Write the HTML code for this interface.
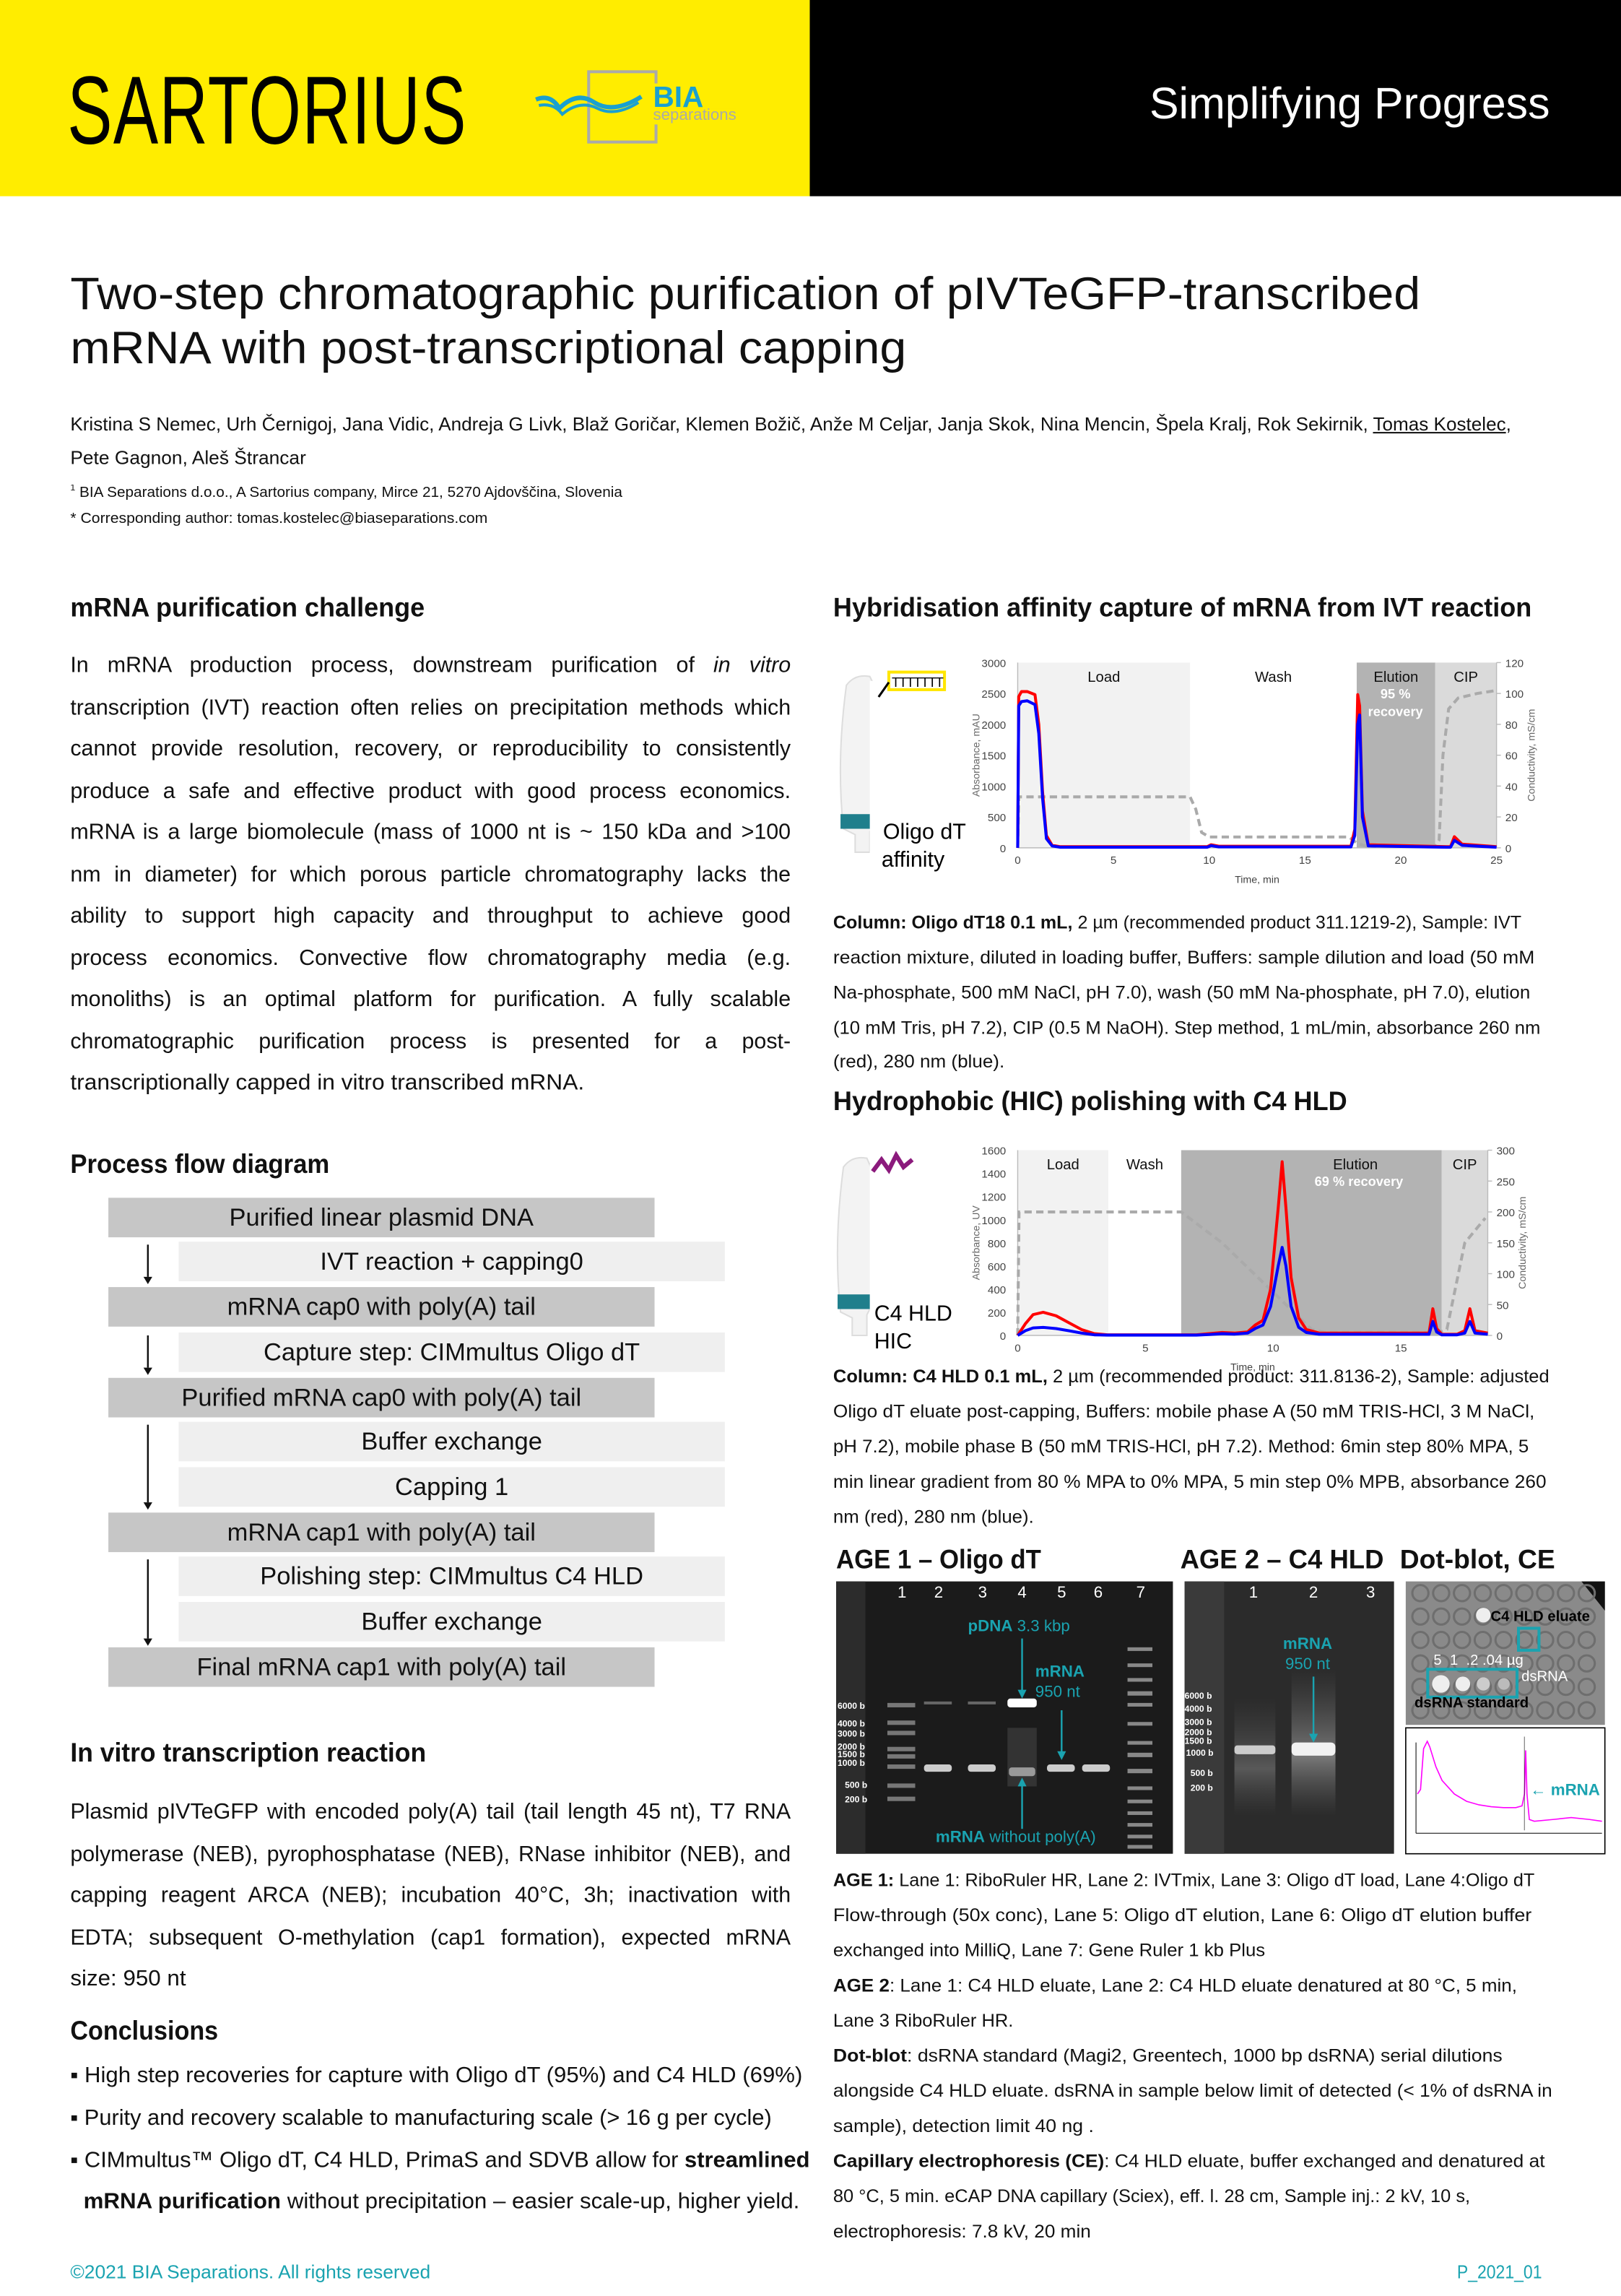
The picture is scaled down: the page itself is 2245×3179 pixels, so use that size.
<!DOCTYPE html>
<html><head><meta charset="utf-8">
<style>
html,body{margin:0;padding:0;background:#fff;overflow:hidden}
body{width:2245px;height:3179px;position:relative}
#pg{position:absolute;left:0;top:0;width:1107px;height:1568px;transform:scale(2.028,2.0274);transform-origin:0 0;font-family:"Liberation Sans",sans-serif;color:#111}
.t{position:absolute;white-space:nowrap;line-height:1}
.t>span{display:inline-block;transform-origin:0 50%;white-space:nowrap}
.h{font-size:18.5px;font-weight:bold}
.p{font-size:15px}
.c{font-size:12.5px}
.box{position:absolute;height:27px;font-size:17px;line-height:27px;text-align:center}
.d{background:#c6c6c6;left:74px;width:373px}
.l{background:#efefef;left:122px;width:373px}
svg text{font-family:"Liberation Sans",sans-serif}
</style></head><body>
<div id="pg">
<div style="position:absolute;left:0;top:0;width:553px;height:134px;background:#ffed00"></div>
<div style="position:absolute;left:553px;top:0;width:554px;height:134px;background:#000"></div>
<div class="t f" data-w="273" style="left:46px;top:42px;font-size:66px;color:#000;letter-spacing:1px"><span>SARTORIUS</span></div>
<div style="position:absolute;left:401px;top:48px;width:44px;height:46px;border:2px solid #aaa;border-left-width:2px"></div>
<svg style="position:absolute;left:364px;top:60px" width="80" height="22"><path d="M2 8 Q12 4 18 14 Q30 2 42 10 Q55 18 74 6" stroke="#1aa0d0" stroke-width="3" fill="none"/><path d="M4 12 Q14 10 20 18 Q32 8 44 14 Q56 20 72 10" stroke="#1aa0d0" stroke-width="2" fill="none"/></svg>
<div class="t" style="left:446px;top:57px;font-size:20px;font-weight:bold;color:#1aa0d0;background:#ffed00">BIA</div>
<div class="t" style="left:446px;top:74px;font-size:11px;color:#aaa;background:#ffed00">separations</div>
<div class="t" style="left:785px;top:57px;font-size:30px;color:#fff">Simplifying Progress</div>

<div class="t f" data-w="922" style="left:48px;top:185px;font-size:31px"><span>Two-step chromatographic purification of pIVTeGFP-transcribed</span></div>
<div class="t f" data-w="571" style="left:48px;top:222px;font-size:31px"><span>mRNA with post-transcriptional capping</span></div>
<div class="t f" data-w="984" style="left:48px;top:283px;font-size:13px"><span>Kristina S Nemec, Urh Černigoj, Jana Vidic, Andreja G Livk, Blaž Goričar, Klemen Božič, Anže M Celjar, Janja Skok, Nina Mencin, Špela Kralj, Rok Sekirnik, <u>Tomas Kostelec</u>,</span></div>
<div class="t f" data-w="161" style="left:48px;top:306px;font-size:13px"><span>Pete Gagnon, Aleš Štrancar</span></div>
<div class="t f" data-w="377" style="left:48px;top:331px;font-size:10px"><span><sup style="font-size:6px">1</sup> BIA Separations d.o.o., A Sartorius company, Mirce 21, 5270 Ajdovščina, Slovenia</span></div>
<div class="t f" data-w="285" style="left:48px;top:350px;font-size:10px"><span>* Corresponding author: tomas.kostelec@biaseparations.com</span></div>

<div class="t h f" data-w="242" style="left:48px;top:406px"><span>mRNA purification challenge</span></div>
<div class="t h f" data-w="477" style="left:569px;top:406px"><span>Hybridisation affinity capture of mRNA from IVT reaction</span></div>
<div class="t h f" data-w="177" style="left:48px;top:786px"><span>Process flow diagram</span></div>
<div class="t h f" data-w="351" style="left:569px;top:743px"><span>Hydrophobic (HIC) polishing with C4 HLD</span></div>
<div class="t h f" data-w="243" style="left:48px;top:1188px"><span>In vitro transcription reaction</span></div>
<div class="t h f" data-w="101" style="left:48px;top:1378px"><span>Conclusions</span></div>
<div class="t h f" data-w="140" style="left:571px;top:1056px"><span>AGE 1 – Oligo dT</span></div>
<div class="t h f" data-w="139" style="left:806px;top:1056px"><span>AGE 2 – C4 HLD</span></div>
<div class="t h f" data-w="106" style="left:956px;top:1056px"><span>Dot-blot, CE</span></div>

<div>
<div class="t p j" data-w="492" style="left:48px;top:447px"><span>In mRNA production process, downstream purification of <i>in vitro</i></span></div>
<div class="t p j" data-w="492" style="left:48px;top:476px"><span>transcription (IVT) reaction often relies on precipitation methods which</span></div>
<div class="t p j" data-w="492" style="left:48px;top:504px"><span>cannot provide resolution, recovery, or reproducibility to consistently</span></div>
<div class="t p j" data-w="492" style="left:48px;top:533px"><span>produce a safe and effective product with good process economics.</span></div>
<div class="t p j" data-w="492" style="left:48px;top:561px"><span>mRNA is a large biomolecule (mass of 1000 nt is ~ 150 kDa and &gt;100</span></div>
<div class="t p j" data-w="492" style="left:48px;top:590px"><span>nm in diameter) for which porous particle chromatography lacks the</span></div>
<div class="t p j" data-w="492" style="left:48px;top:618px"><span>ability to support high capacity and throughput to achieve good</span></div>
<div class="t p j" data-w="492" style="left:48px;top:647px"><span>process economics. Convective flow chromatography media (e.g.</span></div>
<div class="t p j" data-w="492" style="left:48px;top:675px"><span>monoliths) is an optimal platform for purification. A fully scalable</span></div>
<div class="t p j" data-w="492" style="left:48px;top:704px"><span>chromatographic purification process is presented for a post-</span></div>
<div class="t p f" data-w="351" style="left:48px;top:732px"><span>transcriptionally capped in vitro transcribed mRNA.</span></div>
</div>

<div>
<div class="box d" style="top:818px">Purified linear plasmid DNA</div>
<div class="box l" style="top:848px">IVT reaction + capping0</div>
<div class="box d" style="top:879px">mRNA cap0 with poly(A) tail</div>
<div class="box l" style="top:910px">Capture step: CIMmultus Oligo dT</div>
<div class="box d" style="top:941px">Purified mRNA cap0 with poly(A) tail</div>
<div class="box l" style="top:971px">Buffer exchange</div>
<div class="box l" style="top:1002px">Capping 1</div>
<div class="box d" style="top:1033px">mRNA cap1 with poly(A) tail</div>
<div class="box l" style="top:1063px">Polishing step: CIMmultus C4 HLD</div>
<div class="box l" style="top:1094px">Buffer exchange</div>
<div class="box d" style="top:1125px">Final mRNA cap1 with poly(A) tail</div>
<svg style="position:absolute;left:0;top:0" width="130" height="1160">
<g stroke="#111" stroke-width="1.2"><line x1="101" y1="850" x2="101" y2="872"/><line x1="101" y1="912" x2="101" y2="934"/><line x1="101" y1="973" x2="101" y2="1026"/><line x1="101" y1="1065" x2="101" y2="1119"/></g>
<g fill="#111"><path d="M98 872 L104 872 L101 877Z"/><path d="M98 934 L104 934 L101 939Z"/><path d="M98 1026 L104 1026 L101 1031Z"/><path d="M98 1119 L104 1119 L101 1124Z"/></g></svg>
</div>

<div>
<div class="t p j" data-w="492" style="left:48px;top:1230px"><span>Plasmid pIVTeGFP with encoded poly(A) tail (tail length 45 nt), T7 RNA</span></div>
<div class="t p j" data-w="492" style="left:48px;top:1259px"><span>polymerase (NEB), pyrophosphatase (NEB), RNase inhibitor (NEB), and</span></div>
<div class="t p j" data-w="492" style="left:48px;top:1287px"><span>capping reagent ARCA (NEB); incubation 40°C, 3h; inactivation with</span></div>
<div class="t p j" data-w="492" style="left:48px;top:1316px"><span>EDTA; subsequent O-methylation (cap1 formation), expected mRNA</span></div>
<div class="t p f" data-w="79" style="left:48px;top:1344px"><span>size: 950 nt</span></div>
</div>
<div>
<div class="t p f" data-w="500" style="left:48px;top:1410px"><span>▪ High step recoveries for capture with Oligo dT (95%) and C4 HLD (69%)</span></div>
<div class="t p f" data-w="479" style="left:48px;top:1439px"><span>▪ Purity and recovery scalable to manufacturing scale (&gt; 16 g per cycle)</span></div>
<div class="t p f" data-w="505" style="left:48px;top:1468px"><span>▪ CIMmultus™ Oligo dT, C4 HLD, PrimaS and SDVB allow for <b>streamlined</b></span></div>
<div class="t p f" data-w="489" style="left:57px;top:1496px"><span><b>mRNA purification</b> without precipitation – easier scale-up, higher yield.</span></div>
</div>

<div>
<div class="t c f" data-w="470" style="left:569px;top:624px"><span><b>Column: Oligo dT18 0.1 mL,</b> 2 µm (recommended product 311.1219-2), Sample: IVT</span></div>
<div class="t c f" data-w="479" style="left:569px;top:648px"><span>reaction mixture, diluted in loading buffer, Buffers: sample dilution and load (50 mM</span></div>
<div class="t c f" data-w="476" style="left:569px;top:672px"><span>Na-phosphate, 500 mM NaCl, pH 7.0), wash (50 mM Na-phosphate, pH 7.0), elution</span></div>
<div class="t c f" data-w="483" style="left:569px;top:696px"><span>(10 mM Tris, pH 7.2), CIP (0.5 M NaOH). Step method, 1 mL/min, absorbance 260 nm</span></div>
<div class="t c f" data-w="117" style="left:569px;top:719px"><span>(red), 280 nm (blue).</span></div>
</div>
<div>
<div class="t c f" data-w="489" style="left:569px;top:934px"><span><b>Column: C4 HLD 0.1 mL,</b> 2 µm (recommended product: 311.8136-2), Sample: adjusted</span></div>
<div class="t c f" data-w="479" style="left:569px;top:958px"><span>Oligo dT eluate post-capping, Buffers: mobile phase A (50 mM TRIS-HCl, 3 M NaCl,</span></div>
<div class="t c f" data-w="475" style="left:569px;top:982px"><span>pH 7.2), mobile phase B (50 mM TRIS-HCl, pH 7.2). Method: 6min step 80% MPA, 5</span></div>
<div class="t c f" data-w="487" style="left:569px;top:1006px"><span>min linear gradient from 80 % MPA to 0% MPA, 5 min step 0% MPB, absorbance 260</span></div>
<div class="t c f" data-w="137" style="left:569px;top:1030px"><span>nm (red), 280 nm (blue).</span></div>
</div>
<div>
<div class="t c f" data-w="479" style="left:569px;top:1278px"><span><b>AGE 1:</b> Lane 1: RiboRuler HR, Lane 2: IVTmix, Lane 3: Oligo dT load, Lane 4:Oligo dT</span></div>
<div class="t c f" data-w="477" style="left:569px;top:1302px"><span>Flow-through (50x conc), Lane 5:  Oligo dT elution, Lane 6:  Oligo dT elution buffer</span></div>
<div class="t c f" data-w="295" style="left:569px;top:1326px"><span>exchanged into MilliQ, Lane 7: Gene Ruler 1 kb Plus</span></div>
<div class="t c f" data-w="467" style="left:569px;top:1350px"><span><b>AGE 2</b>: Lane 1: C4 HLD eluate, Lane 2:  C4 HLD eluate denatured at 80 °C, 5 min,</span></div>
<div class="t c f" data-w="123" style="left:569px;top:1374px"><span>Lane 3 RiboRuler HR.</span></div>
<div class="t c f" data-w="457" style="left:569px;top:1398px"><span><b>Dot-blot</b>: dsRNA standard (Magi2, Greentech, 1000 bp dsRNA) serial dilutions</span></div>
<div class="t c f" data-w="491" style="left:569px;top:1422px"><span>alongside C4 HLD eluate. dsRNA in sample below limit of detected (&lt; 1% of dsRNA in</span></div>
<div class="t c f" data-w="178" style="left:569px;top:1446px"><span>sample), detection limit 40 ng .</span></div>
<div class="t c f" data-w="486" style="left:569px;top:1470px"><span><b>Capillary electrophoresis (CE)</b>: C4 HLD eluate, buffer exchanged and  denatured at</span></div>
<div class="t c f" data-w="435" style="left:569px;top:1494px"><span>80 °C, 5 min. eCAP DNA capillary (Sciex), eff. l. 28 cm, Sample inj.: 2 kV, 10 s,</span></div>
<div class="t c f" data-w="176" style="left:569px;top:1518px"><span>electrophoresis: 7.8 kV, 20 min</span></div>
</div>

<div class="t f" data-w="246" style="left:48px;top:1545px;font-size:13px;color:#1aa3b0"><span>©2021 BIA Separations. All rights reserved</span></div>
<div class="t f" data-w="58" style="left:995px;top:1545px;font-size:13px;color:#1aa3b0"><span>P_2021_01</span></div>

<svg id="ov" width="1107" height="1568" style="position:absolute;left:0;top:0">
<g>
<path d="M578 468 Q584 460 594 462 L598 470 L598 560 L594 568 L594 582 L584 582 L584 570 L576 566 Q571 520 578 468Z" fill="#f3f3f3" stroke="#ddd"/>
<rect x="574" y="556" width="24" height="10" fill="#1f7f8c"/>
<rect x="594" y="465" width="6" height="120" fill="#fff"/>
<rect x="607" y="459" width="38" height="12" fill="#fff" stroke="#ffe600" stroke-width="2"/>
<text x="609" y="469" font-size="9" letter-spacing="-0.5">TTTTTTT</text>
<line x1="607" y1="466" x2="600" y2="476" stroke="#000" stroke-width="1.5"/>
<text x="603" y="573" font-size="15">Oligo dT</text><text x="602" y="592" font-size="15">affinity</text>
</g>
<g>
<path d="M576 797 Q582 789 592 791 L596 800 L596 890 L592 898 L592 912 L582 912 L582 900 L574 896 Q569 850 576 797Z" fill="#f3f3f3" stroke="#ddd"/>
<rect x="572" y="884" width="24" height="10" fill="#1f7f8c"/>
<rect x="594" y="795" width="6" height="120" fill="#fff"/>
<path d="M596 800 L602 792 L607 799 L612 789 L617 797 L623 792" stroke="#8b1a7c" stroke-width="3" fill="none"/>
<text x="597" y="902" font-size="15">C4 HLD</text><text x="597" y="921" font-size="15">HIC</text>
</g>
<g id="ch1"></g>
<g id="ch2"></g>

<g>
<rect x="571" y="1080" width="230" height="186" fill="#1b1b1b"/>
<rect x="571" y="1080" width="20" height="186" fill="#2c2c2c"/>
<g fill="#fff" font-size="11" text-anchor="middle"><text x="616" y="1091">1</text><text x="641" y="1091">2</text><text x="671" y="1091">3</text><text x="698" y="1091">4</text><text x="725" y="1091">5</text><text x="750" y="1091">6</text><text x="779" y="1091">7</text></g>
<g fill="#777"><rect x="606" y="1163" width="19" height="3"/><rect x="606" y="1175" width="19" height="3"/><rect x="606" y="1182" width="19" height="3"/><rect x="606" y="1193" width="19" height="3"/><rect x="606" y="1198" width="19" height="3"/><rect x="606" y="1205" width="19" height="3"/><rect x="606" y="1218" width="19" height="3"/><rect x="606" y="1227" width="19" height="3"/></g>
<g fill="#888"><rect x="770" y="1125" width="17" height="2.5"/><rect x="770" y="1136" width="17" height="2.5"/><rect x="770" y="1146" width="17" height="2.5"/><rect x="770" y="1155" width="17" height="3"/><rect x="770" y="1163" width="17" height="2.5"/><rect x="770" y="1176" width="17" height="2.5"/><rect x="770" y="1189" width="17" height="2.5"/><rect x="770" y="1197" width="17" height="3"/><rect x="770" y="1208" width="17" height="3"/><rect x="770" y="1220" width="17" height="2.5"/><rect x="770" y="1229" width="17" height="2.5"/><rect x="770" y="1237" width="17" height="2.5"/><rect x="770" y="1245" width="17" height="2.5"/><rect x="770" y="1253" width="17" height="2.5"/><rect x="770" y="1260" width="17" height="2.5"/></g>
<g fill="#ccc"><rect x="631" y="1205" width="19" height="5" rx="2"/><rect x="661" y="1205" width="19" height="5" rx="2"/><rect x="715" y="1205" width="19" height="5" rx="2"/><rect x="739" y="1205" width="19" height="5" rx="2"/></g>
<rect x="688" y="1180" width="20" height="40" fill="#444" opacity="0.6"/>
<rect x="689" y="1207" width="18" height="6" fill="#999" rx="2"/>
<g fill="#666"><rect x="631" y="1162" width="19" height="2"/><rect x="661" y="1162" width="19" height="2"/></g>
<rect x="688" y="1160" width="20" height="6" fill="#fff" rx="2"/>
<g fill="#fff" font-size="6" font-weight="bold"><text x="572" y="1167">6000 b</text><text x="572" y="1179">4000 b</text><text x="572" y="1186">3000 b</text><text x="572" y="1195">2000 b</text><text x="572" y="1200">1500 b</text><text x="572" y="1206">1000 b</text><text x="577" y="1221">500 b</text><text x="577" y="1231">200 b</text></g>
<g fill="#1aa3b0"><text x="661" y="1114" font-size="11"><tspan font-weight="bold">pDNA</tspan> 3.3 kbp</text><text x="707" y="1145" font-size="11" font-weight="bold">mRNA</text><text x="707" y="1159" font-size="11">950 nt</text><text x="639" y="1258" font-size="11"><tspan font-weight="bold">mRNA</tspan> without poly(A)</text></g>
<g stroke="#1aa3b0" stroke-width="1.2"><line x1="698" y1="1119" x2="698" y2="1156"/><line x1="725" y1="1168" x2="725" y2="1198"/><line x1="698" y1="1249" x2="698" y2="1218"/></g>
<g fill="#1aa3b0"><path d="M695 1154 L701 1154 L698 1160Z"/><path d="M722 1196 L728 1196 L725 1202Z"/><path d="M695 1220 L701 1220 L698 1214Z"/></g>
</g>
<g>
<defs><linearGradient id="sm" x1="0" y1="0" x2="0" y2="1"><stop offset="0" stop-color="#555" stop-opacity="0"/><stop offset="0.6" stop-color="#777"/><stop offset="1" stop-color="#555" stop-opacity="0"/></linearGradient></defs>
<rect x="809" y="1080" width="143" height="186" fill="#2b2b2b"/>
<rect x="809" y="1080" width="27" height="186" fill="#3a3a3a"/>
<rect x="843" y="1160" width="28" height="80" fill="url(#sm)" opacity="0.6"/>
<rect x="882" y="1140" width="30" height="100" fill="url(#sm)"/>
<rect x="843" y="1192" width="28" height="6" fill="#ccc" rx="2"/>
<rect x="882" y="1190" width="30" height="9" fill="#f2f2f2" rx="3"/>
<g fill="#fff" font-size="11" text-anchor="middle"><text x="856" y="1091">1</text><text x="897" y="1091">2</text><text x="936" y="1091">3</text></g>
<g fill="#fff" font-size="6" font-weight="bold"><text x="809" y="1160">6000 b</text><text x="809" y="1169">4000 b</text><text x="809" y="1178">3000 b</text><text x="809" y="1185">2000 b</text><text x="809" y="1191">1500 b</text><text x="810" y="1199">1000 b</text><text x="813" y="1213">500 b</text><text x="813" y="1223">200 b</text></g>
<g fill="#1aa3b0" text-anchor="middle"><text x="893" y="1126" font-size="11" font-weight="bold">mRNA</text><text x="893" y="1140" font-size="11">950 nt</text></g>
<line x1="897" y1="1145" x2="897" y2="1185" stroke="#1aa3b0" stroke-width="1.2"/><path d="M894 1184 L900 1184 L897 1190Z" fill="#1aa3b0"/>
</g>
<g>
<rect x="960" y="1080" width="136" height="98" fill="#8a8a8a"/>
<path d="M1080 1080 L1096 1080 L1096 1100Z" fill="#111"/>
<g id="dots" fill="none" stroke="#6e6e6e" stroke-width="1.5"></g>
<circle cx="1013" cy="1103" r="5" fill="#eee"/>
<g fill="#eee"><circle cx="984" cy="1150" r="6"/><circle cx="999" cy="1150" r="5"/><circle cx="1013" cy="1150" r="4.5" fill="#ccc"/><circle cx="1027" cy="1150" r="4" fill="#bbb"/></g>
<rect x="1037" y="1112" width="14" height="15" fill="none" stroke="#1aa3b0" stroke-width="2"/>
<rect x="975" y="1140" width="61" height="19" fill="none" stroke="#1aa3b0" stroke-width="2"/>
<text x="1018" y="1107" font-size="10" font-weight="bold" fill="#000">C4 HLD eluate</text>
<text x="979" y="1137" font-size="10" fill="#fff">5 &#160;1 &#160;.2 .04 µg</text>
<text x="1039" y="1148" font-size="10" fill="#fff">dsRNA</text>
<text x="966" y="1166" font-size="10" font-weight="bold" fill="#000">dsRNA standard</text>
</g>
<g id="ce">
<rect x="960" y="1180" width="136" height="86" fill="#fff" stroke="#000" stroke-width="0.8"/>
<line x1="967" y1="1190" x2="967" y2="1252" stroke="#000" stroke-width="0.5"/><line x1="967" y1="1252" x2="1094" y2="1252" stroke="#000" stroke-width="0.5"/>
<text x="1045" y="1226" font-size="11" font-weight="bold" fill="#1aa3b0">← mRNA</text>
</g>
</svg>
</div>
<script>
// ---- Chart 1: affinity capture ----
const c1Time=[0,0.05,0.2,0.5,0.9,1.1,1.3,1.5,1.8,2.2,9.9,10.1,10.5,17.4,17.6,17.75,17.85,18.0,18.3,22.4,22.6,22.8,23.2,25];
const c1Red=[0,2450,2530,2530,2480,2000,900,200,40,20,20,50,25,25,300,2480,2300,600,50,20,20,180,60,20];
const c1Blue=[0,2300,2370,2380,2320,1850,800,150,30,10,10,35,15,15,200,2000,2150,500,30,10,10,120,40,10];
const c1CondTime=[0,0.05,9,9.3,9.6,10,17.3,17.7,18.2,21.8,22.0,22.2,22.5,23,24,25];
const c1Cond=[0,33,33,25,10,7,7,3,1,1,5,60,90,97,100,102];
const c1XTicks=[0,5,10,15,20,25];
const c1YTicks=[0,500,1000,1500,2000,2500,3000];
const c1Y2Ticks=[0,20,40,60,80,100,120];
const c1Phases=["Load","Wash","Elution","CIP"];
const c1PhaseStart=[0,9,17.7,21.8];
const c1PhaseEnd=[9,17.7,21.8,25];
// ---- Chart 2: HIC polishing ----
const c2Time=[0,0.3,0.6,1,1.5,2,2.5,3,3.5,7,7.5,8,8.5,9,9.3,9.6,9.9,10.2,10.35,10.5,10.7,11,11.3,11.8,16.1,16.25,16.4,16.6,17.2,17.5,17.7,17.9,18.4];
const c2Red=[0,100,180,200,170,110,50,15,5,5,15,25,20,30,90,130,400,1100,1500,1100,500,150,50,20,20,230,60,10,10,40,230,40,20];
const c2Blue=[0,40,65,70,60,40,20,5,2,2,8,15,12,20,60,90,250,600,760,600,250,70,25,10,10,120,30,5,5,20,120,20,10];
const c2CondTime=[0,0.05,6.4,8,10,11.5,12,16.5,16.8,17.2,17.5,18.3];
const c2Cond=[0,200,200,150,70,10,5,5,10,90,150,190];
const c2XTicks=[0,5,10,15];
const c2YTicks=[0,200,400,600,800,1000,1200,1400,1600];
const c2Y2Ticks=[0,50,100,150,200,250,300];
const c2Phases=["Load","Wash","Elution","CIP"];
const c2PhaseStart=[0,3.55,6.4,16.6];
const c2PhaseEnd=[3.55,6.4,16.6,18.4];

const NS="http://www.w3.org/2000/svg";
function mk(parent,tag,attrs){const e=document.createElementNS(NS,tag);for(const k in attrs)e.setAttribute(k,attrs[k]);parent.appendChild(e);return e;}
function chart(g,cfg){
  const X=t=>cfg.x0+t*(cfg.x1-cfg.x0)/cfg.tmax;
  const Y=v=>cfg.yb-v*(cfg.yb-cfg.yt)/cfg.ymax;
  const Y2=v=>cfg.yb-v*(cfg.yb-cfg.yt)/cfg.y2max;
  const fills=["#f2f2f2","#ffffff","#b3b3b3","#dadada"];
  cfg.ps.forEach((s,i)=>{
    const r=mk(g,'rect',{x:X(s),y:cfg.yt,width:X(cfg.pe[i])-X(s),height:cfg.yb-cfg.yt,fill:fills[i]});
    
    
    const tx=mk(g,'text',{x:(X(s)+X(cfg.pe[i]))/2+(cfg.labelOff[i]||0),y:cfg.yt+13,'font-size':10,'text-anchor':'middle',fill:'#111'});
    tx.textContent=cfg.names[i];
    
    
  });
  mk(g,'line',{x1:cfg.x0,y1:cfg.yt,x2:cfg.x0,y2:cfg.yb,stroke:'#bbb','stroke-width':0.7});
  mk(g,'line',{x1:cfg.x1,y1:cfg.yt,x2:cfg.x1,y2:cfg.yb,stroke:'#bbb','stroke-width':0.7});
  mk(g,'line',{x1:cfg.x0,y1:cfg.yb,x2:cfg.x1,y2:cfg.yb,stroke:'#bbb','stroke-width':0.7});
  cfg.xt.forEach(v=>{const t=mk(g,'text',{x:X(v),y:cfg.yb+11,'font-size':7.5,'text-anchor':'middle',fill:'#444'});t.textContent=v;
    });
  cfg.yt_.forEach(v=>{const t=mk(g,'text',{x:cfg.x0-8,y:Y(v)+3,'font-size':7.5,'text-anchor':'end',fill:'#444'});t.textContent=v;
    });
  cfg.y2t.forEach(v=>{const t=mk(g,'text',{x:cfg.x1+6,y:Y2(v)+3,'font-size':7.5,fill:'#444'});t.textContent=v;
    mk(g,'line',{x1:cfg.x1,y1:Y2(v),x2:cfg.x1+3,y2:Y2(v),stroke:'#bbb','stroke-width':0.7});
    });
  const xl=mk(g,'text',{x:(cfg.x0+cfg.x1)/2,y:cfg.yb+24,'font-size':7,'text-anchor':'middle',fill:'#444'});xl.textContent='Time, min';
  
  const yl=mk(g,'text',{x:0,y:0,'font-size':7,'text-anchor':'middle',fill:'#666',transform:`translate(${cfg.x0-26},${(cfg.yt+cfg.yb)/2}) rotate(-90)`});yl.textContent=cfg.ylab;
  
  const y2l=mk(g,'text',{x:0,y:0,'font-size':7,'text-anchor':'middle',fill:'#666',transform:`translate(${cfg.x1+26},${(cfg.yt+cfg.yb)/2}) rotate(-90)`});y2l.textContent='Conductivity, mS/cm';
  
  const rec=mk(g,'text',{x:cfg.recX,y:cfg.recY,'font-size':9,'font-weight':'bold','text-anchor':'middle',fill:'#fff'});rec.textContent=cfg.rec[0];
  
  if(cfg.rec[1]){const r2=mk(g,'text',{x:cfg.recX,y:cfg.recY+12,'font-size':9,'font-weight':'bold','text-anchor':'middle',fill:'#fff'});r2.textContent=cfg.rec[1];
    }
  const pth=(ts,vs,f)=>ts.map((t,i)=>(i?'L':'M')+X(t).toFixed(1)+' '+f(vs[i]).toFixed(1)).join(' ');
  const c=mk(g,'path',{d:pth(cfg.ct,cfg.cv,Y2),stroke:'#aaa','stroke-width':2,'stroke-dasharray':'5 3',fill:'none'});
  
  const r=mk(g,'path',{d:pth(cfg.t,cfg.red,Y),stroke:'#ff0000','stroke-width':2,fill:'none','stroke-linejoin':'round'});
  
  const b=mk(g,'path',{d:pth(cfg.t,cfg.blue,Y),stroke:'#0000ff','stroke-width':2,fill:'none','stroke-linejoin':'round'});
  
}
chart(document.getElementById('ch1'),{x0:695,x1:1022,yt:452.5,yb:579,tmax:25,ymax:3000,y2max:120,t:c1Time,red:c1Red,blue:c1Blue,ct:c1CondTime,cv:c1Cond,xt:c1XTicks,yt_:c1YTicks,y2t:c1Y2Ticks,names:c1Phases,ps:c1PhaseStart,pe:c1PhaseEnd,labelOff:[0,0,0,0],ylab:'Absorbance, mAU',rec:['95 %','recovery'],recX:953,recY:477});
chart(document.getElementById('ch2'),{x0:695,x1:1016,yt:785.5,yb:912,tmax:18.4,ymax:1600,y2max:300,t:c2Time,red:c2Red,blue:c2Blue,ct:c2CondTime,cv:c2Cond,xt:c2XTicks,yt_:c2YTicks,y2t:c2Y2Ticks,names:c2Phases,ps:c2PhaseStart,pe:c2PhaseEnd,labelOff:[0,0,30,0],ylab:'Absorbance, UV',rec:['69 % recovery'],recX:928,recY:810});

const dg=document.getElementById('dots');
for(let r=0;r<6;r++)for(let c=0;c<9;c++){mk(dg,'circle',{cx:970+c*14.2,cy:1088+r*16,r:5.5});}
const ceT=[0,0.5,1,1.6,2,3,4,6,8,10,12,14,16,17,17.4,17.6,17.8,18.2,19,22,25,28,30];
const ceV=[40,45,90,98,92,70,55,40,32,28,26,25,25,27,40,88,40,12,10,12,14,12,10];
const ce=document.getElementById('ce');
const cp=ceT.map((t,i)=>(i?'L':'M')+(968+t*4.2).toFixed(1)+' '+(1250-ceV[i]*0.62).toFixed(1)).join(' ');
const cep=mk(ce,'path',{d:cp,stroke:'#ff00ff','stroke-width':0.8,fill:'none'});


mk(ce,'line',{x1:1041,y1:1186,x2:1041,y2:1250,stroke:'#000','stroke-width':0.3});

document.querySelectorAll('.t.f,.t.j').forEach(el=>{
  const sp=el.firstElementChild;const w=+el.dataset.w;const nw=sp.getBoundingClientRect().width/2.028;
  if(el.classList.contains('j')&&nw<w){const n=(sp.textContent.match(/ /g)||[]).length;if(n)sp.style.wordSpacing=((w-nw)/n)+'px';}
  else sp.style.transform='scaleX('+(w/nw)+')';
});
</script>
</body></html>
